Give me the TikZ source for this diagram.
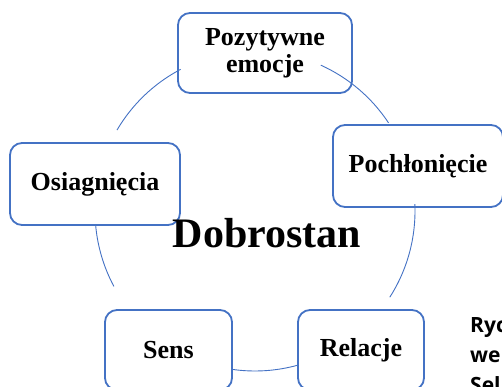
\documentclass[tikz,border=0pt]{standalone}
\usepackage{fontspec}
\setmainfont{Liberation Serif}
\newfontfamily\notefont{Open Sans}
\definecolor{ringblue}{HTML}{4472C4}

\begin{document}
\begin{tikzpicture}[x=1pt, y=1pt,
    box/.style={rectangle, draw=ringblue, line width=1.8pt, rounded corners=12pt,
        fill=white, align=center, inner sep=0pt,
        font=\fontsize{26}{27}\selectfont\bfseries},
    ring/.style={ringblue, line width=0.9pt}]
    \useasboundingbox (0,0) rectangle (502,386);
    \clip (0,0) rectangle (502,386);
    \coordinate (centre) at (255,175);
    % the five parts of well-being
    \node[box, minimum width=174pt, minimum height=80pt] (emocje) at (265,333) {Pozytywne\\emocje};
    \node[box, minimum width=170pt, minimum height=82pt] (pochloniecie) at (418,220) {Pochłonięcie};
    \node[box, minimum width=170pt, minimum height=82pt] (osiagniecia) at (95,202) {Osiagnięcia};
    \node[box, minimum width=127pt, minimum height=80pt] (sens) at (168.5,36) {Sens};
    \node[box, minimum width=126pt, minimum height=80pt] (relacje) at (361,36) {Relacje};
    % ring between the boxes
    \foreach \a/\b in {149.6/117.7, 65.7/33.4, 2.5/-32.6, -74.5/-98.4, 208.1/184.9}
        \draw[ring] ([shift={(\a:160)}]centre) arc[start angle=\a, end angle=\b, radius=160];
    \node[anchor=base, font=\fontsize{42}{42}\selectfont\bfseries] (dobrostan) at (267,139) {Dobrostan};
    \node[anchor=base west, align=left, inner sep=0pt,
        font=\notefont\fontsize{21}{30}\selectfont\bfseries] (ryc) at (470,-6) {Ryc\\we\\Sel};
\end{tikzpicture}
\end{document}
